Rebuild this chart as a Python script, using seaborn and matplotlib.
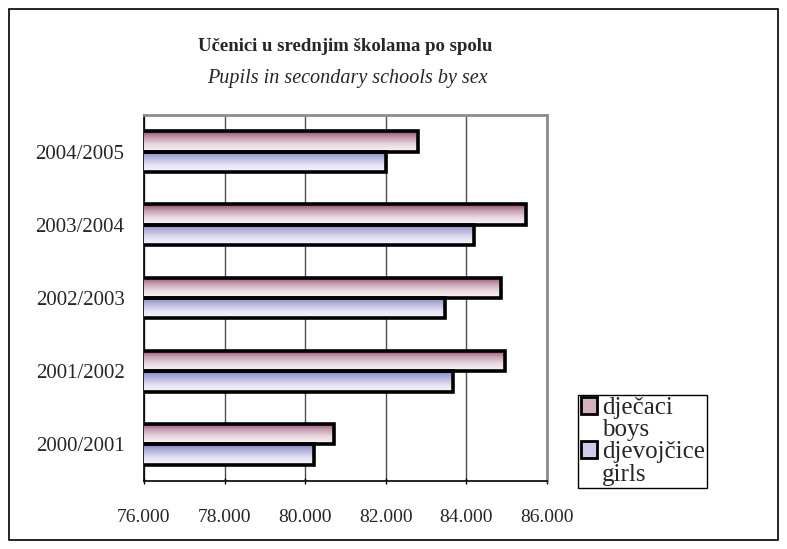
import matplotlib
matplotlib.use('Agg')
import matplotlib.pyplot as plt
import matplotlib.patches as mpatches
from matplotlib.colors import LinearSegmentedColormap
from matplotlib.ticker import FuncFormatter, FixedLocator
import seaborn as sns
import numpy as np
import pandas as pd

years = ['2004/2005', '2003/2004', '2002/2003', '2001/2002', '2000/2001']
boys = [82800, 85470, 84860, 84950, 80720]
girls = [82010, 84180, 83460, 83670, 80230]
series_local = ['dječaci', 'djevojčice']
series_en = ['boys', 'girls']

df = pd.DataFrame({
    'year': years * 2,
    'pupils': boys + girls,
    'sex': [series_en[0]] * len(years) + [series_en[1]] * len(years),
})

sns.set_style('white')
plt.rcParams['font.family'] = ['Liberation Serif', 'DejaVu Serif']

X_MIN, X_MAX = 76000, 86000

fig = plt.figure(figsize=(7.87, 5.49), dpi=100)
ax = fig.add_axes([144 / 787, 1 - 481 / 549, (547 - 144) / 787, (481 - 115) / 549])

sns.barplot(data=df, y='year', x='pupils', hue='sex', order=years,
            hue_order=series_en, orient='h', width=0.56, ax=ax,
            palette=['#C9A3B4', '#C3C3E6'], edgecolor='black', linewidth=2.6,
            legend=False, zorder=3)

# vertical gradient fill on each bar (dark top -> light bottom)
grads = {
    0: LinearSegmentedColormap.from_list('b', ['#94506F', '#C9A3B5', '#EADCE2', '#F8F4F6']),
    1: LinearSegmentedColormap.from_list('g', ['#8484C4', '#B6B6DF', '#E4E4F4', '#F6F6FC']),
}
grad = np.linspace(0, 1, 64).reshape(-1, 1)
n = len(years)
bars = [p for p in ax.patches if isinstance(p, mpatches.Rectangle)][:2 * n]
for i, p in enumerate(bars):
    x0, y0 = p.get_x(), p.get_y()
    w, h = p.get_width(), p.get_height()
    left = max(x0, X_MIN)
    ax.imshow(grad, cmap=grads[i // n], aspect='auto', origin='upper',
              extent=(left, x0 + w, y0 + h, y0), zorder=3.5,
              interpolation='bilinear')
    p.set_facecolor('none')
    p.set_zorder(4)

ax.set_xlim(X_MIN, X_MAX)
ax.set_ylim(n - 0.5, -0.5)
ax.xaxis.set_major_locator(FixedLocator(np.arange(X_MIN, X_MAX + 1, 2000)))
ax.xaxis.set_major_formatter(FuncFormatter(lambda v, _: f'{v:,.0f}'.replace(',', '.')))
ax.grid(True, axis='x', color='#505050', linewidth=1, zorder=0)
ax.grid(False, axis='y')
ax.set_axisbelow(True)

ax.set_yticks(np.arange(n))
ax.set_yticklabels(years)
ax.set_yticks(np.arange(-0.5, n, 1), minor=True)
ax.tick_params(axis='y', which='major', length=0, pad=14, labelsize=15)
ax.tick_params(axis='y', which='minor', length=5, width=1, direction='out', color='black')
ax.tick_params(axis='x', which='major', length=5, width=1, direction='inout',
               color='black', labelsize=14, pad=18, bottom=True)
ax.set_xlabel('')
ax.set_ylabel('')

for side in ['left', 'bottom']:
    ax.spines[side].set_color('black')
    ax.spines[side].set_linewidth(1.2)
for side in ['top', 'right']:
    ax.spines[side].set_visible(True)
    ax.spines[side].set_color('#8C8C8C')
    ax.spines[side].set_linewidth(2)

fig.text(345 / 787, 1 - 47 / 549, 'Učenici u srednjim školama po spolu',
         ha='center', va='center', fontsize=13.5, fontweight='bold')
fig.text(347 / 787, 1 - 79 / 549, 'Pupils in secondary schools by sex',
         ha='center', va='center', fontsize=14.5, style='italic')

# legend: square beside the local name, English name on the line below
blank = mpatches.Patch(facecolor='none', edgecolor='none')
handles = [mpatches.Patch(facecolor='#D2B2C0', edgecolor='black', linewidth=2), blank,
           mpatches.Patch(facecolor='#CDCDEB', edgecolor='black', linewidth=2), blank]
labels = [series_local[0], series_en[0], series_local[1], series_en[1]]
fig.legend(handles, labels, loc='lower left',
           bbox_to_anchor=(578 / 787, 1 - 488 / 549), fontsize=18,
           frameon=True, fancybox=False, edgecolor='black', framealpha=1,
           handlelength=0.65, handleheight=0.65, handletextpad=0.2,
           borderpad=0.1, labelspacing=0.0, borderaxespad=0)

fig.patches.append(mpatches.Rectangle((9 / 787, 9 / 549), 769 / 787, 531 / 549,
                                      transform=fig.transFigure, fill=False,
                                      edgecolor='black', linewidth=1.2))

fig.savefig('out.png', dpi=100)
plt.close(fig)
